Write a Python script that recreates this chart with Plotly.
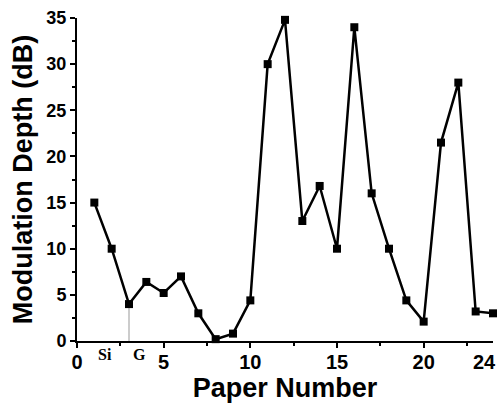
import plotly.graph_objects as go

paper = list(range(1, 25))
depth = [15, 10, 4, 6.4, 5.2, 7, 3, 0.2, 0.8, 4.4, 30, 34.8, 13, 16.8, 10, 34,
         16, 10, 4.4, 2.1, 21.5, 28, 3.2, 3.0]
x_ticks = [0, 5, 10, 15, 20]
x_end_label = 24
y_ticks = [0, 5, 10, 15, 20, 25, 30, 35]
annot_text = ["Si", "G"]
annot_x = [1.62, 3.58]

fig = go.Figure()
# thin gray marker line at paper 3
fig.add_trace(go.Scatter(x=[paper[2], paper[2]], y=[0, depth[2]], mode="lines",
                         line=dict(color="#999999", width=1), showlegend=False,
                         hoverinfo="skip"))
fig.add_trace(go.Scatter(x=paper, y=depth, mode="lines+markers",
                         line=dict(color="black", width=2.5),
                         marker=dict(symbol="square", size=8, color="black"),
                         showlegend=False, cliponaxis=False))

for t, xv in zip(annot_text, annot_x):
    fig.add_annotation(x=xv, y=0, text=t, showarrow=False,
                       yanchor="top", yshift=-3,
                       font=dict(family="Liberation Serif", size=16, color="black",
                                 weight="bold"))

# end-of-axis label (drawn inside the figure edge)
fig.add_annotation(x=x_end_label, y=0, text=str(x_end_label), showarrow=False,
                   xanchor="right", xshift=5, yanchor="middle", yshift=-21,
                   font=dict(family="Liberation Sans", size=20, color="black",
                             weight="bold"))

axis_common = dict(showline=True, linecolor="black", linewidth=2, ticks="outside",
                   tickwidth=2, ticklen=5, tickcolor="black", showgrid=False,
                   zeroline=False, mirror=False, automargin=False,
                   ticklabeloverflow="allow")

fig.update_xaxes(range=[0, 24], tickvals=x_ticks,
                 ticklabelstandoff=-3,
                 tickfont=dict(family="Liberation Sans", size=20, color="black",
                               weight="bold"),
                 minor=dict(dtick=2.5, tick0=0, ticks="outside", ticklen=3,
                            tickwidth=1.5, tickcolor="black"),
                 title=dict(text="Paper Number", standoff=4,
                            font=dict(family="Liberation Sans", size=27, color="black",
                                      weight="bold")),
                 **axis_common)
fig.update_yaxes(range=[0, 35], tickvals=y_ticks,
                 tickfont=dict(family="Liberation Sans", size=18, color="black",
                               weight="bold"),
                 minor=dict(dtick=2.5, tick0=0, ticks="outside", ticklen=3,
                            tickwidth=1.5, tickcolor="black"),
                 title=dict(text="Modulation Depth (dB)", standoff=6,
                            font=dict(family="Liberation Sans", size=27, color="black",
                                      weight="bold")),
                 **axis_common)

fig.update_layout(width=502, height=405, margin=dict(l=77, r=9, t=18, b=64),
                  plot_bgcolor="white", paper_bgcolor="white",
                  font=dict(family="Liberation Sans", color="black"))

fig.write_html("out.html", config=dict(displayModeBar=False),
               post_script="document.body.style.margin='0';document.body.style.overflow='hidden';")
